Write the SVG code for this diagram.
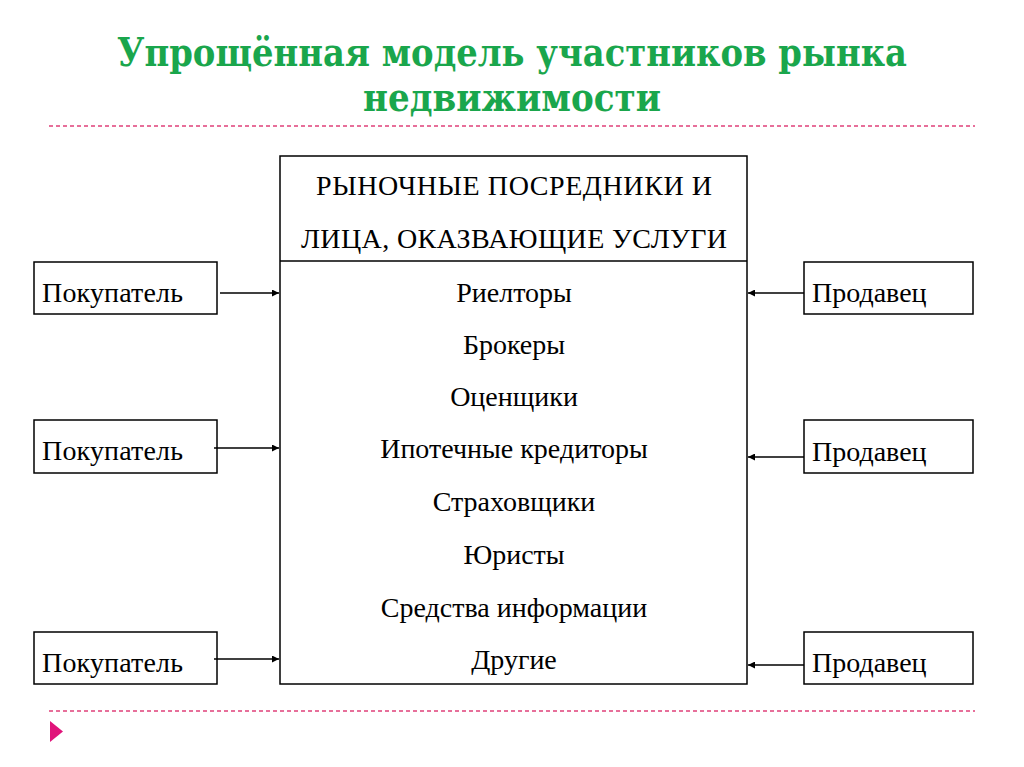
<svg xmlns="http://www.w3.org/2000/svg" width="1024" height="767" viewBox="0 0 1024 767">
<defs>
<style>
.t{font-size:28px;fill:#000}
.c{text-anchor:middle}
.box{fill:#fff;stroke:#000;stroke-width:1.5}
.ttl{font-weight:bold;font-size:40px;fill:#1aa64c;text-anchor:middle}
.dash{stroke:#e0407a;stroke-width:1.5;stroke-dasharray:4 3;fill:none}
.arr{stroke:#000;stroke-width:1.5;fill:none;marker-end:url(#ah)}
</style>
<marker id="ah" viewBox="0 0 10 10" refX="10" refY="5" markerWidth="7" markerHeight="7" markerUnits="userSpaceOnUse" orient="auto">
<path d="M0,0 L10,5 L0,10 z" fill="#000"/>
</marker>
</defs>
<rect width="1024" height="767" fill="#fff"/>
<g id="title" font-family="DejaVu Serif Condensed, DejaVu Serif, serif">
<text class="ttl" x="512" y="66" textLength="790" lengthAdjust="spacingAndGlyphs">Упрощённая модель участников  рынка</text>
<text class="ttl" x="512" y="111" textLength="298" lengthAdjust="spacingAndGlyphs">недвижимости</text>
</g>
<line class="dash" x1="49" y1="126" x2="975" y2="126"/>
<line class="dash" x1="49" y1="711" x2="975" y2="711"/>
<polygon points="50,721 63,731.5 50,742" fill="#e0147a"/>
<g font-family="Liberation Serif, serif">
<g id="intermediaries">
<rect class="box" x="280" y="156" width="467" height="528"/>
<line x1="280" y1="261" x2="747" y2="261" stroke="#000" stroke-width="1.5"/>
<text class="t c" x="514" y="195" textLength="396" lengthAdjust="spacing">РЫНОЧНЫЕ ПОСРЕДНИКИ  И</text>
<text class="t c" x="514" y="248" textLength="426" lengthAdjust="spacing">ЛИЦА, ОКАЗВАЮЩИЕ УСЛУГИ</text>
<text class="t c" x="514" y="302">Риелторы</text>
<text class="t c" x="514" y="354">Брокеры</text>
<text class="t c" x="514" y="406">Оценщики</text>
<text class="t c" x="514" y="458">Ипотечные кредиторы</text>
<text class="t c" x="514" y="511">Страховщики</text>
<text class="t c" x="514" y="564">Юристы</text>
<text class="t c" x="514" y="617">Средства информации</text>
<text class="t c" x="514" y="669">Другие</text>
</g>
<g id="buyer1"><rect class="box" x="34" y="262" width="183" height="52"/><text class="t" x="42" y="302" textLength="141" lengthAdjust="spacing">Покупатель</text></g>
<g id="buyer2"><rect class="box" x="34" y="420" width="183" height="53"/><text class="t" x="42" y="460" textLength="141" lengthAdjust="spacing">Покупатель</text></g>
<g id="buyer3"><rect class="box" x="34" y="632" width="183" height="52"/><text class="t" x="42" y="672" textLength="141" lengthAdjust="spacing">Покупатель</text></g>
<g id="seller1"><rect class="box" x="804" y="262" width="169" height="52"/><text class="t" x="812" y="302">Продавец</text></g>
<g id="seller2"><rect class="box" x="804" y="420" width="169" height="53"/><text class="t" x="812" y="461">Продавец</text></g>
<g id="seller3"><rect class="box" x="804" y="632" width="169" height="52"/><text class="t" x="812" y="672">Продавец</text></g>
</g>
<g id="connectors">
<line class="arr" x1="220" y1="293" x2="279" y2="293"/>
<line class="arr" x1="214" y1="448" x2="279" y2="448"/>
<line class="arr" x1="214" y1="659" x2="279" y2="659"/>
<line class="arr" x1="804" y1="293" x2="748" y2="293"/>
<line class="arr" x1="804" y1="457" x2="748" y2="457"/>
<line class="arr" x1="804" y1="665" x2="748" y2="665"/>
</g>
</svg>
